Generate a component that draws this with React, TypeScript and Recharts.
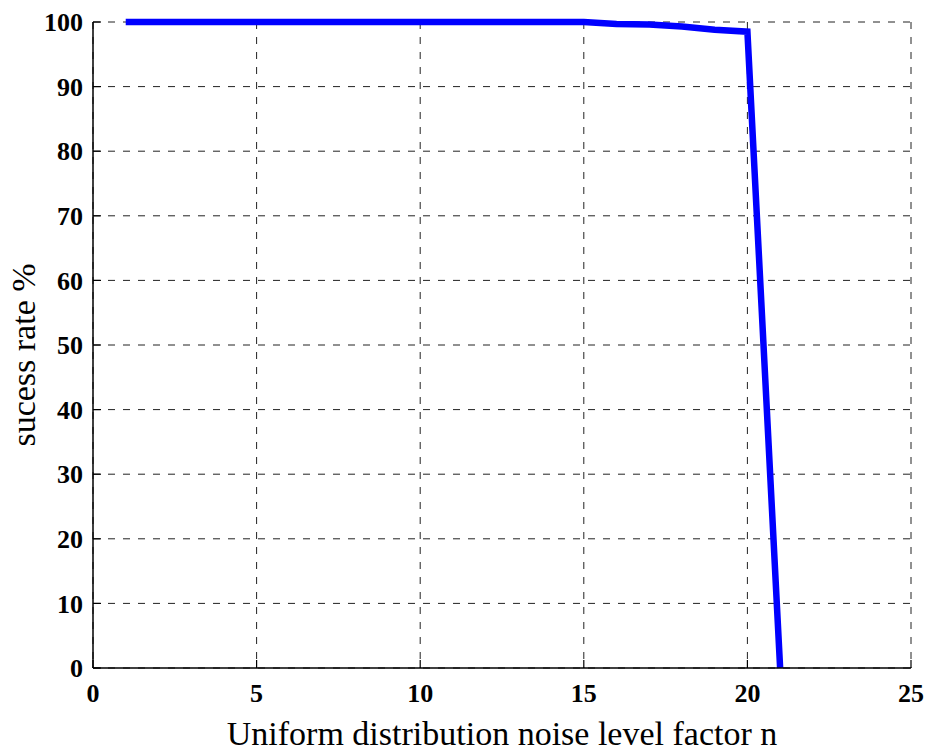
import { LineChart, Line, XAxis, YAxis, CartesianGrid, Label } from 'recharts';

// noise level factor n and success rate (%)
const noiseLevels = [1, 2, 3, 4, 5, 6, 7, 8, 9, 10, 11, 12, 13, 14, 15, 16, 17, 18, 19, 20, 21];
const successRate = [100, 100, 100, 100, 100, 100, 100, 100, 100, 100, 100, 100, 100, 100, 100, 99.7, 99.6, 99.3, 98.8, 98.5, 0];

const xTicks = [0, 5, 10, 15, 20, 25];
const yTicks = [0, 10, 20, 30, 40, 50, 60, 70, 80, 90, 100];

const data = noiseLevels.map((n, i) => ({ n, rate: successRate[i] }));

const serif = '"Liberation Serif", "Times New Roman", serif';
const tickStyle = { fontSize: 26, fontWeight: 'bold' as const, fill: '#000', fontFamily: serif };
const axisLine = { stroke: '#000', strokeWidth: 1.5 };
const tickLine = { stroke: '#000', strokeWidth: 1.2 };
const blank = () => '';

const YLabel = ({ viewBox }: any) => {
    const x = viewBox.x + 35;
    const y = viewBox.y + viewBox.height / 2 + 10;
    return (
        <text
            x={x}
            y={y}
            transform={`rotate(-90, ${x}, ${y})`}
            textAnchor="middle"
            fontSize={34}
            fontFamily={serif}
            fill="#000"
        >
            sucess rate %
        </text>
    );
};

const App = () => {
    return (
        <div style={{ position: 'absolute', left: 0, top: 0, background: '#fff' }}>
            <LineChart width={927} height={754} data={data} margin={{ top: 22, right: 16, bottom: 0, left: 0 }}>
                <CartesianGrid
                    xAxisId="b"
                    yAxisId="l"
                    stroke="#222"
                    strokeWidth={1}
                    strokeDasharray="7 8"
                    horizontalValues={yTicks}
                    verticalValues={xTicks}
                />
                <XAxis
                    xAxisId="b"
                    dataKey="n"
                    type="number"
                    domain={[0, 25]}
                    ticks={xTicks}
                    interval={0}
                    height={86}
                    tickSize={-8}
                    tickMargin={24}
                    tick={tickStyle}
                    axisLine={axisLine}
                    tickLine={tickLine}
                >
                    <Label
                        value="Uniform distribution noise level factor n"
                        position="insideBottom"
                        offset={9}
                        style={{ fontSize: 34, fill: '#000', fontFamily: serif }}
                    />
                </XAxis>
                <XAxis
                    xAxisId="t"
                    orientation="top"
                    dataKey="n"
                    type="number"
                    domain={[0, 25]}
                    ticks={xTicks}
                    interval={0}
                    height={0}
                    tickSize={-8}
                    tickFormatter={blank}
                    axisLine={axisLine}
                    tickLine={tickLine}
                />
                <YAxis
                    yAxisId="l"
                    type="number"
                    domain={[0, 100]}
                    ticks={yTicks}
                    interval={0}
                    width={93}
                    tickSize={-8}
                    tickMargin={18}
                    tick={tickStyle}
                    axisLine={axisLine}
                    tickLine={tickLine}
                    label={<YLabel />}
                />
                <YAxis
                    yAxisId="r"
                    orientation="right"
                    type="number"
                    domain={[0, 100]}
                    ticks={yTicks}
                    interval={0}
                    width={0}
                    tickSize={-8}
                    tickFormatter={blank}
                    axisLine={axisLine}
                    tickLine={tickLine}
                />
                <Line
                    xAxisId="b"
                    yAxisId="l"
                    type="linear"
                    dataKey="rate"
                    stroke="#0000ff"
                    strokeWidth={6.5}
                    dot={false}
                    activeDot={false}
                    isAnimationActive={false}
                />
            </LineChart>
        </div>
    );
};

export default App;
